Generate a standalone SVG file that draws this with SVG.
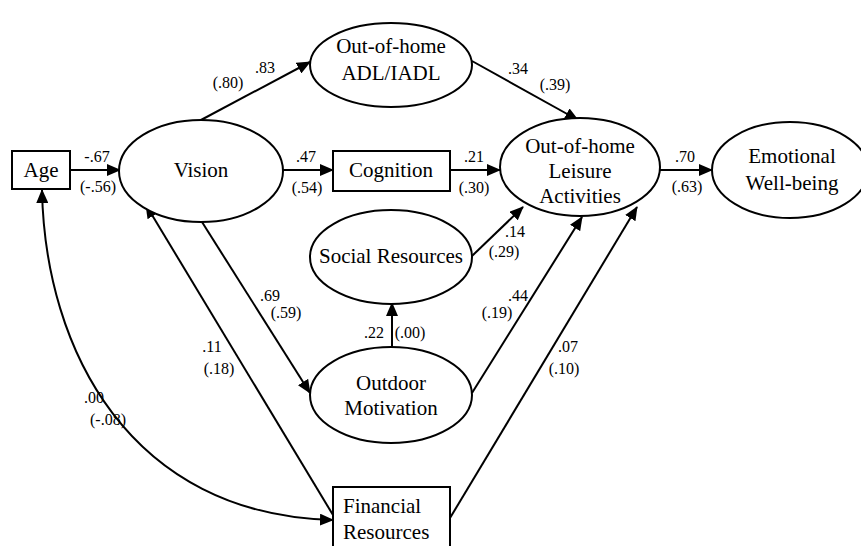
<svg xmlns="http://www.w3.org/2000/svg" width="861" height="546" viewBox="0 0 861 546">
<style>
.n{fill:#fff;stroke:#000;stroke-width:2}
.t{font-size:21px;fill:#000;text-anchor:middle}
.l{font-size:16px;fill:#000;text-anchor:middle}
.c{fill:none;stroke:#000;stroke-width:2}
</style>
<defs>
<marker id="ah" markerUnits="userSpaceOnUse" markerWidth="14" markerHeight="12" refX="13" refY="6" orient="auto-start-reverse" viewBox="0 0 14 12">
<path d="M0,0 L14,6 L0,12 z" fill="#000"/>
</marker>
</defs>
<rect width="861" height="546" fill="#fff"/>
<g id="connectors">
<path class="c" d="M70,170 L120,170" marker-end="url(#ah)"/>
<path class="c" d="M201,120 L310,62" marker-end="url(#ah)"/>
<path class="c" d="M283,170 L333,170" marker-end="url(#ah)"/>
<path class="c" d="M450,170 L500,170" marker-end="url(#ah)"/>
<path class="c" d="M472,61 L578,120" marker-end="url(#ah)"/>
<path class="c" d="M660,170 L712,170" marker-end="url(#ah)"/>
<path class="c" d="M472,256 L523,207" marker-end="url(#ah)"/>
<path class="c" d="M392,347 L392,303" marker-end="url(#ah)"/>
<path class="c" d="M202,222 L310,393" marker-end="url(#ah)"/>
<path class="c" d="M472,393 L582,217" marker-end="url(#ah)"/>
<path class="c" d="M333,515 L146,205" marker-end="url(#ah)"/>
<path class="c" d="M450,518 L637,207" marker-end="url(#ah)"/>
<path class="c" d="M42,190 C45,350 130,515 333,520" marker-start="url(#ah)" marker-end="url(#ah)"/>
</g>
<g id="labels" font-family="Liberation Serif, DejaVu Serif, serif">
<text class="l" x="97" y="162">-.67</text>
<text class="l" x="98" y="192">(-.56)</text>
<text class="l" x="265" y="73">.83</text>
<text class="l" x="228" y="88">(.80)</text>
<text class="l" x="518" y="74">.34</text>
<text class="l" x="555" y="90">(.39)</text>
<text class="l" x="306" y="162">.47</text>
<text class="l" x="307" y="193">(.54)</text>
<text class="l" x="474" y="162">.21</text>
<text class="l" x="474" y="193">(.30)</text>
<text class="l" x="685" y="162">.70</text>
<text class="l" x="687" y="192">(.63)</text>
<text class="l" x="515" y="237">.14</text>
<text class="l" x="504" y="257">(.29)</text>
<text class="l" x="270" y="301">.69</text>
<text class="l" x="286" y="318">(.59)</text>
<text class="l" x="374" y="338">.22</text>
<text class="l" x="410" y="338">(.00)</text>
<text class="l" x="518" y="301">.44</text>
<text class="l" x="497" y="318">(.19)</text>
<text class="l" x="568" y="352">.07</text>
<text class="l" x="564" y="374">(.10)</text>
<text class="l" x="212" y="352">.11</text>
<text class="l" x="219" y="374">(.18)</text>
<text class="l" x="94" y="403">.00</text>
<text class="l" x="108" y="425">(-.08)</text>
</g>
<g font-family="Liberation Serif, DejaVu Serif, serif">
<g id="age">
<rect class="n" x="12" y="151" width="58" height="38"/>
<text class="t" x="41" y="177">Age</text>
</g>
<g id="vision">
<ellipse class="n" cx="201" cy="171" rx="82" ry="51"/>
<text class="t" x="201" y="177">Vision</text>
</g>
<g id="adl">
<ellipse class="n" cx="391" cy="65" rx="81" ry="42"/>
<text class="t" x="391" y="53">Out-of-home</text>
<text class="t" x="391" y="80">ADL/IADL</text>
</g>
<g id="cognition">
<rect class="n" x="333" y="151" width="117" height="40"/>
<text class="t" x="391" y="177">Cognition</text>
</g>
<g id="leisure">
<ellipse class="n" cx="580" cy="167" rx="80" ry="49"/>
<text class="t" x="580" y="153">Out-of-home</text>
<text class="t" x="580" y="178">Leisure</text>
<text class="t" x="580" y="203">Activities</text>
</g>
<g id="emotional">
<ellipse class="n" cx="790" cy="170" rx="78" ry="48"/>
<text class="t" x="792" y="163">Emotional</text>
<text class="t" x="792" y="190">Well-being</text>
</g>
<g id="social">
<ellipse class="n" cx="391" cy="257" rx="81" ry="47"/>
<text class="t" x="391" y="263">Social Resources</text>
</g>
<g id="outdoor">
<ellipse class="n" cx="391" cy="395" rx="81" ry="48"/>
<text class="t" x="391" y="390">Outdoor</text>
<text class="t" x="391" y="415">Motivation</text>
</g>
<g id="financial">
<rect class="n" x="333" y="487" width="117" height="75"/>
<text class="t" x="343" y="513" style="text-anchor:start">Financial</text>
<text class="t" x="343" y="539" style="text-anchor:start">Resources</text>
</g>
</g>
</svg>
